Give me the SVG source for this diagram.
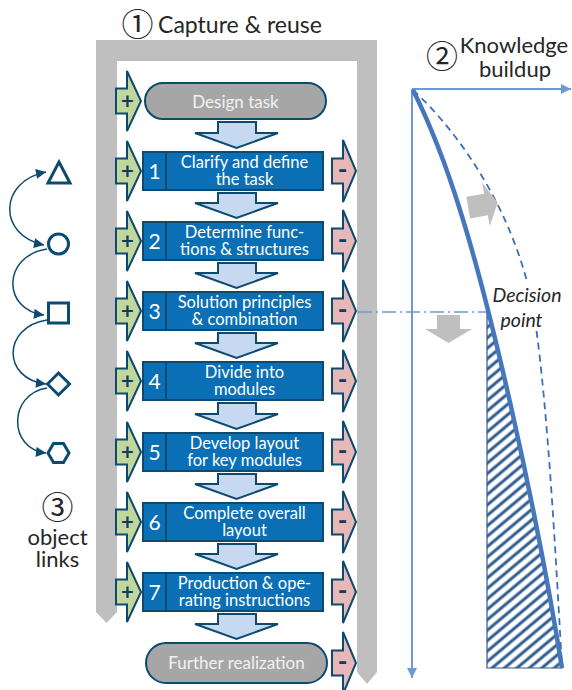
<svg xmlns="http://www.w3.org/2000/svg" width="572" height="690" viewBox="0 0 572 690">
  <defs>
    <style>
      .lbl{font-family:Lato,"Liberation Sans",sans-serif;fill:#262626}
      .circ{font-family:"Noto Sans CJK JP","DejaVu Sans",sans-serif;fill:#262626;text-anchor:middle}
      .box{fill:#0a6fb5;stroke:#0c4a70;stroke-width:2}
      .div{stroke:#0c4a70;stroke-width:2}
      .pill{fill:#a6a6a6;stroke:#0c4a70;stroke-width:2}
      .btxt{font-family:Lato,"Liberation Sans",sans-serif;font-size:16.5px;fill:#ffffff;text-anchor:middle}
      .ptxt{font-family:Lato,"Liberation Sans",sans-serif;font-size:17px;fill:#f2f2f2;text-anchor:middle}
      .num{font-family:Lato,"Liberation Sans",sans-serif;font-size:21px;fill:#ffffff;text-anchor:middle}
      .chev{fill:#c6d9f1;stroke:#0c4a70;stroke-width:2}
      .plus{fill:#c3d69b;stroke:#0c4a70;stroke-width:2}
      .minus{fill:#e6b9b8;stroke:#0c4a70;stroke-width:2}
      .sym{font-family:Lato,"Liberation Sans",sans-serif;font-weight:bold;fill:#0c3c62;text-anchor:middle}
      .shape{fill:none;stroke:#0e4a70;stroke-width:3}
      .link{fill:none;stroke:#0e4a70;stroke-width:1.5}
      .axis{fill:none;stroke:#6d9ad4;stroke-width:2}
      .garrow{fill:#bfbfbf}
    </style>
    <marker id="linkHead" viewBox="0 0 10 10" refX="10" refY="5" markerWidth="11" markerHeight="10" markerUnits="userSpaceOnUse" orient="auto-start-reverse">
      <path d="M0,0 L10,5 L0,10 Z" fill="#0e4a70"/>
    </marker>
    <marker id="axisHead" viewBox="0 0 10 10" refX="10" refY="5" markerWidth="10" markerHeight="10" markerUnits="userSpaceOnUse" orient="auto">
      <path d="M0,0 L10,5 L0,10 Z" fill="#6d9ad4"/>
    </marker>
    <pattern id="hatch" patternUnits="userSpaceOnUse" width="8" height="8" patternTransform="rotate(-40)">
      <line x1="0" y1="4" x2="8" y2="4" stroke="#2f5b8f" stroke-width="3"/>
    </pattern>
    <path id="plusShape" d="M116,-12.5 H127 V-30 L141,0 L127,30 V12.5 H116 Z"/>
    <path id="minusShape" d="M332,-12.5 H343 V-31 L356,0 L343,31 V12.5 H332 Z"/>
  </defs>

  <rect width="572" height="690" fill="#ffffff"/>

  <!-- capture & reuse frame -->
  <g id="frame">
    <path d="M96,40 H377 V672 L367,684 L357,672 V61 H117 V612 L106.5,623 L96,612 Z" fill="#bfbfbf"/>
    <text class="circ" x="137.5" y="36" font-size="32">①</text>
    <text class="lbl" x="158" y="33" font-size="23" textLength="164">Capture &amp; reuse</text>
  </g>

  <!-- flow chevrons between steps -->
  <g id="connectors">
    <polygon class="chev" points="218,122 256,122 256,133 278,133 236.5,148 195,133 218,133"/>
    <polygon class="chev" points="218,193 256,193 256,203 278,203 236.5,218 195,203 218,203"/>
    <polygon class="chev" points="218,263 256,263 256,273 278,273 236.5,288 195,273 218,273"/>
    <polygon class="chev" points="218,333 256,333 256,343 278,343 236.5,358 195,343 218,343"/>
    <polygon class="chev" points="218,403 256,403 256,414 278,414 236.5,429 195,414 218,414"/>
    <polygon class="chev" points="218,474 256,474 256,484 278,484 236.5,499 195,484 218,484"/>
    <polygon class="chev" points="218,544 256,544 256,554 278,554 236.5,569 195,554 218,554"/>
    <polygon class="chev" points="218,614 256,614 256,624 278,624 236.5,639 195,624 218,624"/>
  </g>

  <g id="design-task">
    <use href="#plusShape" class="plus" y="101"/>
    <text class="sym" x="127.5" y="108.5" font-size="22">+</text>
    <rect class="pill" x="145" y="83" width="181" height="36" rx="18"/>
    <text class="ptxt" x="235.5" y="107.5">Design task</text>
  </g>

  <g id="step-1">
    <use href="#plusShape" class="plus" y="171"/>
    <text class="sym" x="127.5" y="178.5" font-size="22">+</text>
    <use href="#minusShape" class="minus" y="171"/>
    <text class="sym" x="342.5" y="178.5" font-size="26">-</text>
    <rect class="box" x="143" y="152" width="180" height="38"/>
    <line class="div" x1="166" y1="152" x2="166" y2="190"/>
    <text class="num" x="154.5" y="179">1</text>
    <text class="btxt" x="244.5" y="168">Clarify and define</text>
    <text class="btxt" x="244.5" y="185">the task</text>
  </g>

  <g id="step-2">
    <use href="#plusShape" class="plus" y="241"/>
    <text class="sym" x="127.5" y="248.5" font-size="22">+</text>
    <use href="#minusShape" class="minus" y="241"/>
    <text class="sym" x="342.5" y="248.5" font-size="26">-</text>
    <rect class="box" x="143" y="222" width="180" height="38"/>
    <line class="div" x1="166" y1="222" x2="166" y2="260"/>
    <text class="num" x="154.5" y="249">2</text>
    <text class="btxt" x="244.5" y="238">Determine func-</text>
    <text class="btxt" x="244.5" y="255">tions &amp; structures</text>
  </g>

  <g id="step-3">
    <use href="#plusShape" class="plus" y="311"/>
    <text class="sym" x="127.5" y="318.5" font-size="22">+</text>
    <use href="#minusShape" class="minus" y="311"/>
    <text class="sym" x="342.5" y="318.5" font-size="26">-</text>
    <rect class="box" x="143" y="292" width="180" height="38"/>
    <line class="div" x1="166" y1="292" x2="166" y2="330"/>
    <text class="num" x="154.5" y="319">3</text>
    <text class="btxt" x="244.5" y="308">Solution principles</text>
    <text class="btxt" x="244.5" y="325">&amp; combination</text>
  </g>

  <g id="step-4">
    <use href="#plusShape" class="plus" y="381"/>
    <text class="sym" x="127.5" y="388.5" font-size="22">+</text>
    <use href="#minusShape" class="minus" y="381"/>
    <text class="sym" x="342.5" y="388.5" font-size="26">-</text>
    <rect class="box" x="143" y="362" width="180" height="38"/>
    <line class="div" x1="166" y1="362" x2="166" y2="400"/>
    <text class="num" x="154.5" y="389">4</text>
    <text class="btxt" x="244.5" y="378">Divide into</text>
    <text class="btxt" x="244.5" y="395">modules</text>
  </g>

  <g id="step-5">
    <use href="#plusShape" class="plus" y="452"/>
    <text class="sym" x="127.5" y="459.5" font-size="22">+</text>
    <use href="#minusShape" class="minus" y="452"/>
    <text class="sym" x="342.5" y="459.5" font-size="26">-</text>
    <rect class="box" x="143" y="433" width="180" height="38"/>
    <line class="div" x1="166" y1="433" x2="166" y2="471"/>
    <text class="num" x="154.5" y="460">5</text>
    <text class="btxt" x="244.5" y="449">Develop layout</text>
    <text class="btxt" x="244.5" y="466">for key modules</text>
  </g>

  <g id="step-6">
    <use href="#plusShape" class="plus" y="522"/>
    <text class="sym" x="127.5" y="529.5" font-size="22">+</text>
    <use href="#minusShape" class="minus" y="522"/>
    <text class="sym" x="342.5" y="529.5" font-size="26">-</text>
    <rect class="box" x="143" y="503" width="180" height="38"/>
    <line class="div" x1="166" y1="503" x2="166" y2="541"/>
    <text class="num" x="154.5" y="530">6</text>
    <text class="btxt" x="244.5" y="519">Complete overall</text>
    <text class="btxt" x="244.5" y="536">layout</text>
  </g>

  <g id="step-7">
    <use href="#plusShape" class="plus" y="592"/>
    <text class="sym" x="127.5" y="599.5" font-size="22">+</text>
    <use href="#minusShape" class="minus" y="592"/>
    <text class="sym" x="342.5" y="599.5" font-size="26">-</text>
    <rect class="box" x="143" y="573" width="180" height="38"/>
    <line class="div" x1="166" y1="573" x2="166" y2="611"/>
    <text class="num" x="154.5" y="600">7</text>
    <text class="btxt" x="244.5" y="589">Production &amp; ope-</text>
    <text class="btxt" x="244.5" y="606">rating instructions</text>
  </g>

  <g id="further-realization">
    <use href="#minusShape" class="minus" y="663"/>
    <text class="sym" x="342.5" y="670.5" font-size="26">-</text>
    <rect class="pill" x="146" y="643" width="181" height="40" rx="20"/>
    <text class="ptxt" x="236.5" y="668.5">Further realization</text>
  </g>

  <!-- object links -->
  <g id="object-links">
    <polygon class="shape" points="59,162 70,183 48,183"/>
    <circle class="shape" cx="58.5" cy="244" r="10"/>
    <rect class="shape" x="48.5" y="303" width="20" height="20"/>
    <polygon class="shape" points="58.5,373 69.5,384 58.5,395 47.5,384"/>
    <polygon class="shape" points="48,453 53.5,443.5 63.5,443.5 69,453 63.5,462.5 53.5,462.5"/>
    <path class="link" d="M44,245 C-2,236 -2,181 46,172" marker-start="url(#linkHead)" marker-end="url(#linkHead)"/>
    <path class="link" d="M47,249 C2,256 2,310 44,315" marker-end="url(#linkHead)"/>
    <path class="link" d="M47,320 C2,327 2,379 46,384" marker-end="url(#linkHead)"/>
    <path class="link" d="M47,388 C8,394 8,449 46,453" marker-end="url(#linkHead)"/>
    <text class="circ" x="57.5" y="519" font-size="32">③</text>
    <text class="lbl" x="57.5" y="545" font-size="22" text-anchor="middle">object</text>
    <text class="lbl" x="57.5" y="567" font-size="22" text-anchor="middle">links</text>
  </g>

  <!-- knowledge buildup chart -->
  <g id="knowledge-buildup">
    <text class="circ" x="442" y="68" font-size="32">②</text>
    <text class="lbl" x="514" y="53" font-size="22" text-anchor="middle">Knowledge</text>
    <text class="lbl" x="515" y="77" font-size="22" text-anchor="middle">buildup</text>
    <path class="axis" d="M412,89 H571" marker-end="url(#axisHead)"/>
    <path class="axis" d="M412,89 V678" marker-end="url(#axisHead)"/>
    <path d="M413,90 C462,135 520,220 535,320 C548,410 556,560 562,668" fill="none" stroke="#3b6fb6" stroke-width="1.8" stroke-dasharray="7 5"/>
    <path d="M358,312 H487" fill="none" stroke="#6d9ad4" stroke-width="1.5" stroke-dasharray="14 4 2 4"/>
    <rect x="491" y="283" width="75" height="48" fill="#ffffff"/>
    <text class="lbl" x="527" y="302" font-size="19.5" font-style="italic" text-anchor="middle">Decision</text>
    <text class="lbl" x="521.5" y="327" font-size="19.5" font-style="italic" text-anchor="middle">point</text>
    <path d="M488.3,311.8 C514,413.2 542.6,547.5 562,668 L487,668 L487,312 Z" fill="url(#hatch)" stroke="#2f5b8f" stroke-width="1.2"/>
    <path d="M413,90 C428,120 446,165 460,210 C490,305 535,500 562,668" fill="none" stroke="#4677bd" stroke-width="4.5"/>
    <polygon class="garrow" transform="translate(483,205) rotate(-10)" points="-15,-11 3,-11 3,-22 15,0 3,22 3,11 -15,11"/>
    <polygon class="garrow" points="437,315 460,315 460,329 472,329 448.5,343 425,329 437,329"/>
  </g>
</svg>
